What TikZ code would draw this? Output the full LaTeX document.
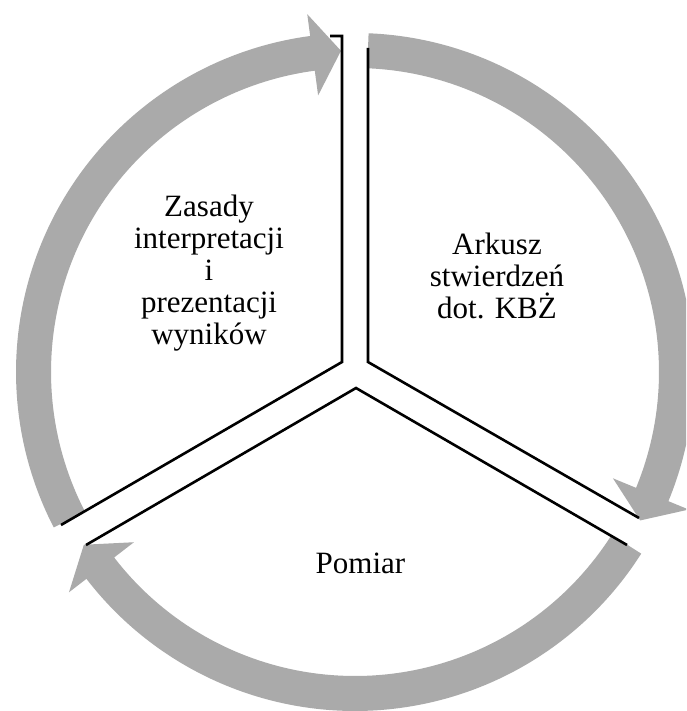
\documentclass[tikz,border=0pt]{standalone}
\usepackage{fontspec}
\setmainfont{Liberation Serif}
\definecolor{ringgray}{RGB}{170,170,170}
\tikzset{
  ringarrow/.style={fill=ringgray, draw=none},
  divider/.style={draw=black, line width=2.6pt, line cap=butt, line join=miter},
  sectortext/.style={align=center, inner sep=0pt, font=\fontsize{31}{32}\selectfont}
}
% Gray ring segment: start angle, head-base angle, tip angle (clockwise on screen)
\newcommand{\cyclearrow}[3]{%
  \fill[ringarrow]
    (#1:304) arc[start angle=#1, end angle=#2, radius=304]
    -- (#2:279) -- (#3:321.5) -- (#2:361) -- (#2:339)
    arc[start angle=#2, end angle=#1, radius=339] -- cycle;}
\begin{document}
\begin{tikzpicture}[x=1pt, y=-1pt]
  \useasboundingbox (0,0) rectangle (686,711);
  \clip (0,0) rectangle (686,711);
  \fill[white] (0,0) rectangle (686,711);

  % ring of three arrows around the centre
  \begin{scope}[shift={(355,372)}]
    \cyclearrow{152.7}{262.4}{267.5}
    \cyclearrow{272.3}{382.4}{387.5}
    \cyclearrow{32.4}{142.4}{147.5}
  \end{scope}

  % corners of the three sectors and the ends of their edges
  \coordinate (ul) at (342,362);
  \coordinate (ur) at (368,362);
  \coordinate (bm) at (356,388);
  \coordinate (ulTop) at (342,36);
  \coordinate (ulCap) at (330,36);
  \coordinate (urTop) at (368,48);
  \coordinate (urEnd) at (639,518);
  \coordinate (bmRight) at (627,545);
  \coordinate (bmLeft) at (86,545);
  \coordinate (ulEnd) at (61,525);

  \draw[divider] (ulCap) -- (ulTop) -- (ul) -- (ulEnd);
  \draw[divider] (urTop) -- (ur) -- (urEnd);
  \draw[divider] (bmLeft) -- (bm) -- (bmRight);

  % sector labels
  \node[sectortext] (zasady) at (209,273) {Zasady\\interpretacji\\i\\prezentacji\\wyników};
  \node[sectortext] (arkusz) at (497,276) {Arkusz\\stwierdzeń\\dot. KBŻ};
  \node[sectortext, anchor=base] (pomiar) at (360.5,573) {Pomiar};
\end{tikzpicture}
\end{document}
